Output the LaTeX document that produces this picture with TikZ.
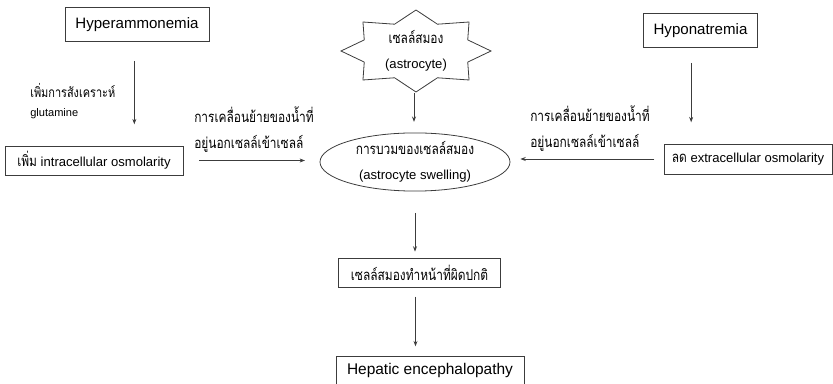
\documentclass[tikz,border=0pt]{standalone}
\usepackage{fontspec}
\setmainfont{Liberation Sans}
\newfontfamily\thaifont[Script=Thai, Scale=1.14, FakeStretch=0.8]{Loma}
\usetikzlibrary{arrows.meta,positioning,calc,shapes.geometric}
\definecolor{LineG}{RGB}{60,60,60}
\newcommand{\bigf}{\fontsize{11.3}{14}\selectfont}
\newcommand{\midf}{\fontsize{9.8}{19}\selectfont}
\newcommand{\smallf}{\fontsize{8.3}{14}\selectfont}
\newcommand{\thtxt}[1]{{\thaifont #1}}
\tikzset{
  box/.style={draw=LineG, line width=0.6pt, inner sep=0pt, align=center},
  arr/.style={draw=LineG, line width=0.6pt, -{Stealth[length=4pt,width=3pt]}},
  note/.style={inner sep=0pt, align=left, anchor=west}
}

\begin{document}
\begin{tikzpicture}[x=0.75pt,y=-0.75pt]
  \useasboundingbox (0,0) rectangle (833,384);
  % boxes
  \node[box, font=\bigf, minimum width=108pt, minimum height=26pt] (hyper) at (137,24.5) {Hyperammonemia};
  \node[box, font=\midf, minimum width=133.5pt, minimum height=21.75pt] (intra) at (94,160.5) {\thtxt{เพิ่ม} intracellular osmolarity};
  \node[box, font=\bigf, minimum width=85pt, minimum height=26pt] (hypo) at (700.5,30.5) {Hyponatremia};
  \node[box, font=\midf, minimum width=126pt, minimum height=22.5pt] (extra) at (748,159) {\thtxt{ลด} extracellular osmolarity};
  \node[box, font=\midf, ellipse, minimum width=142.5pt, minimum height=40.5pt] (swell) at (415,162)
    {\thtxt{การบวมของเซลล์สมอง}\\(astrocyte swelling)};
  \node[box, font=\midf, minimum width=121pt, minimum height=21.75pt] (dysf) at (419.5,272.5) {\thtxt{เซลล์สมองทำหน้าที่ผิดปกติ}};
  \node[box, font=\fontsize{11.6}{14}\selectfont, minimum width=141pt, minimum height=22.5pt] (hep) at (430,371) {Hepatic encephalopathy};

  % star round the astrocyte
  \node[font=\midf, align=center, inner sep=0pt] (astro) at (416,51) {\thtxt{เซลล์สมอง}\\(astrocyte)};
  \draw[LineG, line width=0.6pt] ($(astro)+(90:75 and 41)$)
    \foreach \a in {0,45,...,315}{ -- ($(astro)+(90+\a:75 and 41)$) -- ($(astro)+(112.5+\a:56 and 29)$) } -- cycle;
  \coordinate (astrob) at (414,93);

  % notes
  \node[note, font=\smallf] (glut) at (30,101) {{\fontsize{9}{14}\selectfont\thtxt{เพิ่มการสังเคราะห์}}\\glutamine};
  \node[note, font=\midf] (leftmove) at (194,129.5) {\thtxt{การเคลื่อนย้ายของน้ำที่}\\\thtxt{อยู่นอกเซลล์เข้าเซลล์}};
  \node[note, font=\midf] (rightmove) at (530,128.5) {\thtxt{การเคลื่อนย้ายของน้ำที่}\\\thtxt{อยู่นอกเซลล์เข้าเซลล์}};

  % arrows
  \draw[arr, shorten <=14pt, shorten >=16pt] ([xshift=-2pt]hyper.south) -- ([xshift=-2pt]hyper.south |- intra.north);
  \draw[arr, shorten <=12pt, shorten >=11pt] (intra.east) -- (intra.east -| swell.west);
  \draw[arr, shorten >=8pt] (astrob) -- (astrob |- swell.north);
  \draw[arr, shorten <=11pt, shorten >=16pt] ([xshift=-7pt]hypo.south) -- ([xshift=-7pt]hypo.south |- extra.north);
  \draw[arr, shorten <=7pt, shorten >=7.5pt] (extra.west) -- (extra.west -| swell.east);
  \draw[arr, shorten <=16pt, shorten >=4.5pt] (swell.south) -- (swell.south |- dysf.north);
  \draw[arr, shorten <=7pt, shorten >=7pt] ([xshift=-3pt]dysf.south) -- ([xshift=-3pt]dysf.south |- hep.north);
\end{tikzpicture}
\end{document}
